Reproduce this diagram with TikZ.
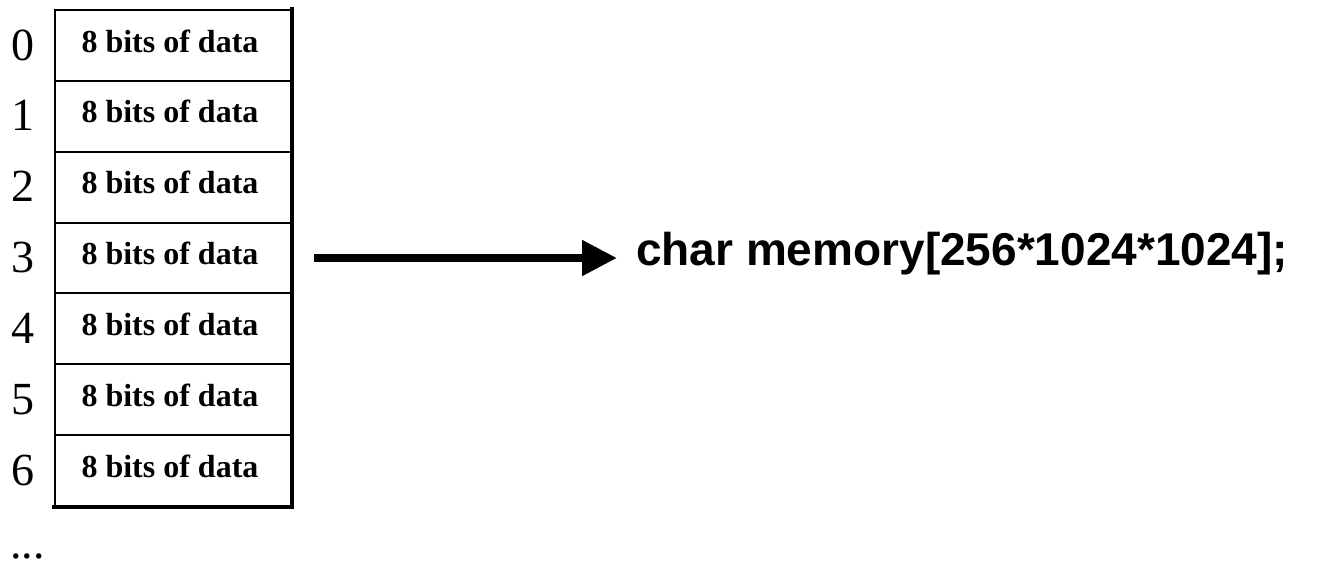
\documentclass[tikz,border=0pt]{standalone}
\usepackage{fontspec}
\setmainfont{Liberation Serif}
\newfontfamily\codefont{Liberation Sans}
\usetikzlibrary{arrows.meta}

\tikzset{
  cell/.style={draw, line width=2pt, minimum width=236pt, minimum height=70.86pt,
               inner sep=0pt, anchor=north west},
  celltext/.style={inner sep=0pt, anchor=base, font=\fontsize{32}{36}\selectfont\bfseries},
  addr/.style={inner sep=0pt, anchor=base, font=\fontsize{46}{50}\selectfont},
  heavyedge/.style={line width=3.5pt, line cap=rect},
  bigarrow/.style={line width=8pt, -{Triangle[length=35pt, width=34pt]}},
  code/.style={inner sep=0pt, anchor=base west,
               font=\fontsize{46}{50}\selectfont\codefont\bfseries},
}

\begin{document}
\begin{tikzpicture}[x=1pt, y=-1pt]
  \useasboundingbox (0,0) rectangle (1320,563);

  % memory cells with their addresses
  \foreach \i in {0,...,6} {
    \node[cell] (c\i) at (54, {9 + 70.86*\i}) {};
    \node[celltext] (t\i) at (170, {9 + 70.86*\i + 43}) {8 bits of data};
    \node[addr] (d\i) at (23, {9 + 70.86*\i + 51}) {\i};
  }

  % heavier right and bottom edges of the column
  \draw[heavyedge] (c0.north east) -- (c6.south east) -- (c6.south west);

  % continuation mark
  \node[addr, anchor=base west] (more) at (10, 558) {...};

  % declaration and its arrow
  \node[code] (decl) at (636, 265) {char memory[256*1024*1024];};
  \draw[bigarrow] ([xshift=22pt]c3.east) -- ([xshift=-19pt]decl.west |- c3.east);
\end{tikzpicture}
\end{document}
